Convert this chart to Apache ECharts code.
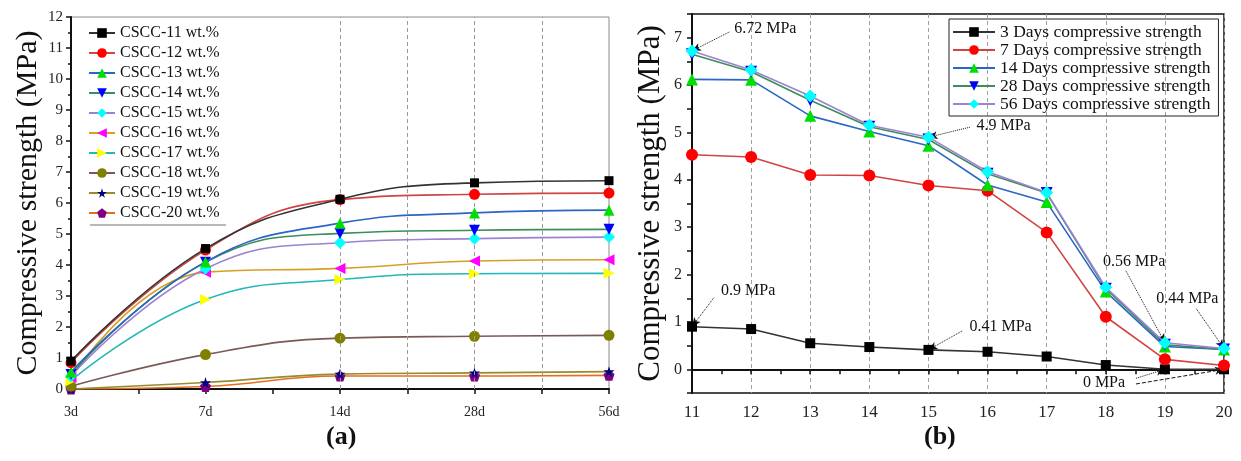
<!DOCTYPE html>
<html>
<head>
<meta charset="utf-8">
<script src="https://cdn.jsdelivr.net/npm/echarts@6/dist/echarts.min.js"></script>
<style>
  html, body { margin: 0; padding: 0; background: #fff; }
  #chart { width: 1241px; height: 461px; }
</style>
</head>
<body>
<div id="chart"></div>
<script>
// Compressive strength (MPa) of the CSCC mixes, by curing age and content (wt.%)
const contents = [11, 12, 13, 14, 15, 16, 17, 18, 19, 20];
const ages = ['3d', '7d', '14d', '28d', '56d'];
const strength3d  = [0.9, 0.85, 0.55, 0.47, 0.41, 0.37, 0.27, 0.09, 0, 0];
const strength7d  = [4.53, 4.48, 4.1, 4.09, 3.88, 3.77, 2.89, 1.11, 0.21, 0.08];
const strength14d = [6.12, 6.11, 5.35, 5.02, 4.72, 3.89, 3.53, 1.64, 0.48, 0.42];
const strength28d = [6.65, 6.28, 5.68, 5.12, 4.85, 4.13, 3.72, 1.7, 0.52, 0.42];
const strength56d = [6.72, 6.32, 5.77, 5.15, 4.9, 4.17, 3.73, 1.73, 0.56, 0.44];
const ageNames = ['3 Days compressive strength', '7 Days compressive strength',
  '14 Days compressive strength', '28 Days compressive strength', '56 Days compressive strength'];

const byAge = [strength3d, strength7d, strength14d, strength28d, strength56d];

const SERIF = '"Liberation Serif", "Times New Roman", serif';
const sym = {
  down: 'path://M0,0 L100,0 L50,87 Z',
  left: 'path://M0,50 L87,0 L87,100 Z',
  right: 'path://M0,0 L87,50 L0,100 Z',
  star: 'path://M50,0 L61,35 L98,35 L68,57 L79,91 L50,70 L21,91 L32,57 L2,35 L39,35 Z',
  pentagon: 'path://M50,0 L98,35 L79,91 L21,91 L2,35 Z'
};
// line colour, marker colour, marker shape, marker size per content
const contentStyles = [
  ['#333333', '#000000', 'rect', 9],
  ['#d24444', '#ff0000', 'circle', 11],
  ['#2a66c4', '#00e000', 'triangle', 11],
  ['#3d8c5c', '#0000ff', sym.down, 11],
  ['#9c82d2', '#00ffff', 'diamond', 12],
  ['#d6a024', '#ff00ff', sym.left, 11],
  ['#22b8b8', '#ffff00', sym.right, 11],
  ['#7a5a58', '#808000', 'circle', 11],
  ['#998a30', '#000080', sym.star, 11],
  ['#e07020', '#800080', sym.pentagon, 11]
];
const ageStyles = [
  ['#333333', '#000000', 'rect', 10],
  ['#d24444', '#ff0000', 'circle', 12],
  ['#2a66c4', '#00e000', 'triangle', 12],
  ['#3d8c5c', '#0000ff', sym.down, 12],
  ['#9c82d2', '#00ffff', 'diamond', 13]
];

const leftSeries = contents.map((c, k) => {
  const st = contentStyles[k];
  const s = {
    name: 'CSCC-' + c + ' wt.%',
    type: 'line',
    xAxisIndex: 0, yAxisIndex: 0,
    smooth: 0.45,
    data: byAge.map((arr, i) => [i, arr[k]]),
    symbol: st[2], symbolSize: st[3],
    lineStyle: { color: st[0], width: 1.6 },
    itemStyle: { color: st[1] },
    z: 10 - k
  };
  if (k === 0) {
    s.markLine = {
      silent: true, symbol: 'none', animation: false,
      label: { show: false },
      lineStyle: { color: '#9a9a9a', type: [4, 3], width: 1 },
      data: [{ xAxis: 2 }, { xAxis: 2.5 }, { xAxis: 3 }, { xAxis: 3.5 }]
    };
  }
  return s;
});

// value annotations on the right panel: text anchor, arrow start, target point
const notes = [
  { text: strength56d[0] + ' MPa', at: [12.24, 7.18], from: [11.63, 7.12], to: [contents[0], strength56d[0]] },
  { text: strength56d[4] + ' MPa', at: [16.27, 5.14], from: [15.7, 5.11], to: [contents[4], strength56d[4]] },
  { text: strength3d[0] + ' MPa', at: [11.95, 1.66], from: [11.37, 1.51], to: [contents[0], strength3d[0]] },
  { text: strength3d[4] + ' MPa', at: [16.22, 0.9], from: [15.57, 0.81], to: [contents[4], strength3d[4]] },
  { text: strength56d[8] + ' MPa', at: [18.48, 2.27], from: [18.34, 2.08], to: [contents[8], strength56d[8]] },
  { text: strength56d[9] + ' MPa', at: [19.38, 1.49], from: [19.53, 1.28], to: [contents[9], strength56d[9]] },
  { text: strength3d[8] + ' MPa', at: [17.97, -0.29], from: [18.51, -0.19], to: [contents[8], strength3d[8]] }
];
const extraArrow = { from: [18.51, -0.31], to: [contents[9], strength3d[9]] };

const rightSeries = ageNames.map((name, i) => {
  const st = ageStyles[i];
  return {
    name: name,
    type: 'line',
    xAxisIndex: 1, yAxisIndex: 1,
    data: contents.map((c, k) => [c, byAge[i][k]]),
    symbol: st[2], symbolSize: st[3],
    lineStyle: { color: st[0], width: 1.6 },
    itemStyle: { color: st[1] },
    z: 10 + i
  };
});
rightSeries[0].markLine = {
  silent: true, animation: false,
  symbol: ['none', 'arrow'], symbolSize: [6, 9],
  label: { show: false },
  lineStyle: { color: '#111', type: 'dotted', width: 1 },
  data: notes.map(n => [{ coord: n.from }, { coord: n.to }]).concat([
    [{ coord: extraArrow.from, lineStyle: { type: 'dashed' } }, { coord: extraArrow.to }]
  ])
};
rightSeries[0].markPoint = {
  silent: true, animation: false,
  symbol: 'circle', symbolSize: 0,
  label: { show: true, position: 'inside', formatter: '{b}', color: '#111', fontFamily: SERIF, fontSize: 16 },
  data: notes.map(n => ({ name: n.text, coord: n.at }))
};

const chart = echarts.init(document.getElementById('chart'), null, { renderer: 'canvas' });
chart.setOption({
  animation: false,
  backgroundColor: '#ffffff',
  textStyle: { fontFamily: SERIF },
  grid: [
    { left: 71, top: 17, width: 538, height: 372, show: true, borderColor: '#8a8a8a', borderWidth: 1 },
    { left: 692, top: 14, width: 532, height: 379, show: true, borderColor: '#111', borderWidth: 1.5 }
  ],
  xAxis: [
    {
      gridIndex: 0, type: 'value', min: 0, max: 4, interval: 0.5,
      axisLine: { lineStyle: { color: '#111', width: 2 } },
      axisTick: { show: true, length: 5, lineStyle: { color: '#111', width: 1.5 } },
      axisLabel: {
        color: '#222', fontFamily: SERIF, fontSize: 14, margin: 16,
        formatter: v => (Number.isInteger(v) ? ages[v] : '')
      },
      splitLine: { show: false }
    },
    {
      gridIndex: 1, type: 'value', min: 11, max: 20, interval: 1,
      axisLine: { lineStyle: { color: '#111', width: 2 } },
      axisTick: { show: true, length: 5, lineStyle: { color: '#111', width: 1.5 } },
      minorTick: { show: true, splitNumber: 2, length: 5, lineStyle: { color: '#111', width: 1.5 } },
      axisLabel: { color: '#222', fontFamily: SERIF, fontSize: 17, margin: 11 },
      splitLine: { show: true, lineStyle: { color: '#a0a0a0', type: [4, 3], width: 1 } }
    }
  ],
  yAxis: [
    {
      gridIndex: 0, type: 'value', min: 0, max: 12, interval: 1,
      name: 'Compressive strength (MPa)', nameLocation: 'middle', nameGap: 28,
      nameTextStyle: { fontFamily: SERIF, fontSize: 30, color: '#111' },
      axisLine: { lineStyle: { color: '#111', width: 2 } },
      axisTick: { show: true, length: 5, lineStyle: { color: '#111', width: 1.5 } },
      minorTick: { show: true, splitNumber: 2, length: 3, lineStyle: { color: '#111', width: 1.5 } },
      axisLabel: { color: '#222', fontFamily: SERIF, fontSize: 15, margin: 8 },
      splitLine: { show: false }
    },
    {
      gridIndex: 1, type: 'value', min: -0.5, max: 7.5, interval: 0.5,
      name: 'Compressive strength (MPa)', nameLocation: 'middle', nameGap: 26,
      nameTextStyle: { fontFamily: SERIF, fontSize: 31, color: '#111' },
      axisLine: { lineStyle: { color: '#111', width: 2 } },
      axisTick: { show: true, length: 5, lineStyle: { color: '#111', width: 1.5 } },
      axisLabel: {
        color: '#222', fontFamily: SERIF, fontSize: 16, margin: 10,
        formatter: v => (Number.isInteger(v) ? String(v) : '')
      },
      splitLine: { show: false }
    }
  ],
  legend: [
    {
      data: leftSeries.map(s => s.name),
      orient: 'vertical', left: 88, top: 25,
      itemWidth: 26, itemHeight: 12, itemGap: 4,
      textStyle: { fontFamily: SERIF, fontSize: 16, lineHeight: 16, color: '#111' },
      padding: 0
    },
    {
      data: ageNames,
      orient: 'vertical', left: 949, top: 19,
      itemWidth: 42, itemHeight: 12, itemGap: 0,
      textStyle: { fontFamily: SERIF, fontSize: 17.5, lineHeight: 16, color: '#111' },
      borderColor: '#222', borderWidth: 1, padding: [4, 8, 3, 3]
    }
  ],
  graphic: [
    { type: 'line', shape: { x1: 90, y1: 225, x2: 226, y2: 225 }, style: { stroke: '#a0a0a0', lineWidth: 1.5 }, silent: true },
    { type: 'text', left: 326, top: 424, style: { text: '(a)', font: 'bold 26px ' + SERIF, fill: '#111' } },
    { type: 'text', left: 924, top: 424, style: { text: '(b)', font: 'bold 26px ' + SERIF, fill: '#111' } }
  ],
  series: leftSeries.concat(rightSeries)
});
</script>
</body>
</html>
